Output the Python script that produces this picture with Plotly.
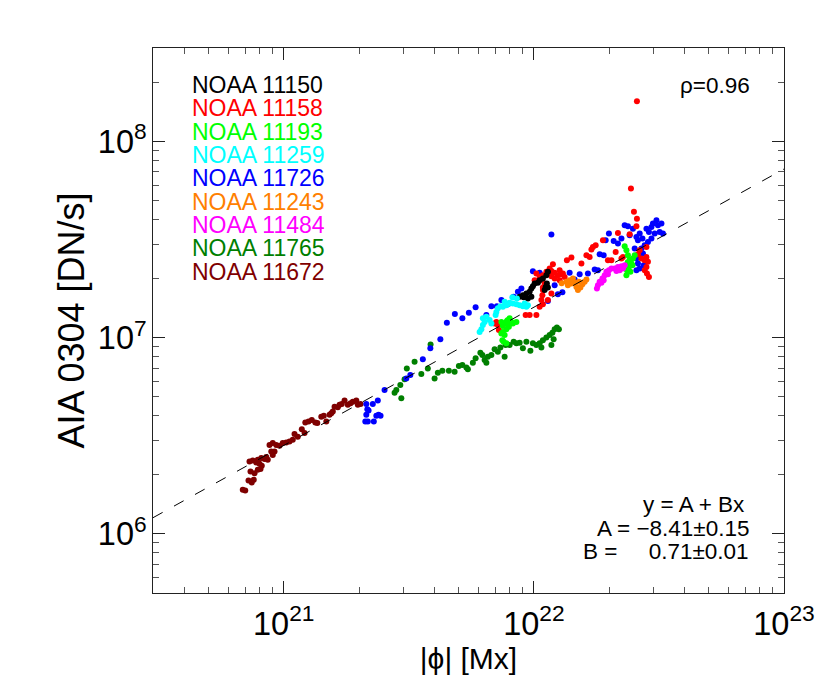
import numpy as np
import plotly.graph_objects as go

# values, stored as log10(|phi| / Mx) and log10(AIA 304 / DN s^-1)
lphi_11150 = [21.943, 21.956, 21.970, 21.983, 21.990, 21.996, 22.003, 22.016, 22.023, 22.036,
              22.050, 22.056, 22.052, 22.047, 22.043, 22.056, 21.976, 21.990, 21.959]
laia_11150 = [7.209, 7.217, 7.226, 7.234, 7.251, 7.263, 7.277, 7.280, 7.293, 7.302,
              7.319, 7.336, 7.277, 7.259, 7.243, 7.256, 7.200, 7.209, 7.207]

lphi_11158 = [22.412, 22.388, 22.400, 22.412, 22.410, 22.336, 22.383, 22.247, 22.236, 22.230,
              22.210, 22.223, 22.190, 22.296, 22.310, 22.327, 22.350, 22.356, 22.276, 22.132,
              22.150, 22.076, 22.063, 22.103, 22.116, 22.430, 22.443, 22.450, 22.456, 22.450,
              22.443, 22.452, 22.460, 22.450, 22.423, 22.416, 22.010, 22.023, 22.003, 22.016,
              22.030, 22.036, 22.050, 22.060, 22.070, 22.083, 22.096, 22.110, 22.123, 22.103,
              22.083, 22.070, 22.043, 22.036, 22.034, 22.030, 22.023, 22.010, 21.983, 21.967,
              22.056, 22.036, 22.036, 22.070, 21.850, 21.856, 21.843, 21.860]
laia_11158 = [8.206, 7.761, 7.643, 7.607, 7.568, 7.534, 7.528, 7.472, 7.463, 7.450,
              7.421, 7.412, 7.378, 7.395, 7.395, 7.437, 7.404, 7.412, 7.497, 7.395,
              7.409, 7.375, 7.353, 7.344, 7.328, 7.404, 7.395, 7.412, 7.387, 7.361,
              7.344, 7.328, 7.310, 7.463, 7.446, 7.426, 7.328, 7.310, 7.293, 7.285,
              7.297, 7.319, 7.336, 7.328, 7.341, 7.331, 7.319, 7.324, 7.310, 7.293,
              7.302, 7.314, 7.277, 7.243, 7.217, 7.192, 7.158, 7.116, 7.116, 7.116,
              7.192, 7.256, 7.171, 7.226, 7.081, 7.065, 7.073, 7.039]

lphi_11193 = [21.870, 21.876, 21.883, 21.892, 21.903, 21.910, 21.916, 21.900, 21.890, 21.876,
              21.870, 21.883, 21.874, 21.879, 21.890, 21.896, 21.930, 21.896,
              22.363, 22.370, 22.376, 22.383, 22.390, 22.380, 22.372, 22.370, 22.396, 22.403,
              22.394, 22.386, 22.375]
laia_11193 = [7.081, 7.060, 7.073, 7.086, 7.099, 7.081, 7.073, 7.056, 7.043, 7.030,
              7.022, 7.014, 6.988, 6.980, 6.972, 7.090, 7.081, 7.070,
              7.466, 7.446, 7.421, 7.399, 7.378, 7.361, 7.344, 7.319, 7.404, 7.421,
              7.370, 7.336, 7.385]

lphi_11259 = [21.783, 21.790, 21.796, 21.803, 21.796, 21.810, 21.823, 21.830, 21.847, 21.850,
              21.856, 21.866, 21.876, 21.890, 21.903, 21.916, 21.930, 21.943, 21.956, 21.970,
              21.976, 21.963, 21.914, 21.932, 21.896, 21.883]
laia_11259 = [7.030, 7.043, 7.065, 7.081, 7.099, 7.107, 7.090, 7.073, 7.116, 7.132,
              7.150, 7.161, 7.158, 7.166, 7.178, 7.175, 7.171, 7.166, 7.161, 7.158,
              7.166, 7.175, 7.206, 7.200, 7.171, 7.183]

lphi_11726 = [21.330, 21.334, 21.339, 21.330, 21.356, 21.376, 21.379, 21.387, 21.370, 21.326,
              21.336, 21.360, 21.403, 21.490, 21.506, 21.556, 21.586, 21.626, 21.652, 21.684,
              21.714, 21.740, 21.767, 21.810, 21.830, 21.852, 21.870, 21.896, 21.919, 21.936,
              21.950, 21.996, 22.023, 22.056, 22.070, 22.083, 22.096, 22.114, 22.143, 22.163,
              22.183, 22.216, 22.243, 22.256, 22.263, 22.279, 22.287, 22.300, 22.319, 22.336,
              22.350, 22.363, 22.376, 22.383, 22.396, 22.410, 22.416, 22.423, 22.434, 22.443,
              22.450, 22.460, 22.470, 22.476, 22.490, 22.496, 22.510, 22.516, 22.503, 22.483,
              22.470, 22.456, 22.430, 22.423, 22.410, 22.416, 22.423, 22.410, 22.403, 22.436,
              22.439]
laia_11726 = [6.663, 6.636, 6.629, 6.607, 6.663, 6.680, 6.607, 6.602, 6.602, 6.573,
              6.573, 6.573, 6.734, 6.793, 6.810, 6.890, 6.946, 6.992, 7.076, 7.121,
              7.099, 7.127, 7.155, 7.116, 7.161, 7.161, 7.192, 7.171, 7.209, 7.234,
              7.251, 7.339, 7.331, 7.188, 7.526, 7.268, 7.222, 7.232, 7.331, 7.297,
              7.324, 7.328, 7.348, 7.344, 7.426, 7.421, 7.497, 7.531, 7.493, 7.480,
              7.506, 7.573, 7.568, 7.522, 7.556, 7.514, 7.497, 7.531, 7.506, 7.472,
              7.556, 7.539, 7.565, 7.582, 7.599, 7.573, 7.582, 7.531, 7.539, 7.531,
              7.506, 7.488, 7.455, 7.429, 7.404, 7.378, 7.353, 7.344, 7.455, 7.429,
              7.370]

lphi_11243 = [22.130, 22.143, 22.150, 22.163, 22.170, 22.176, 22.186, 22.194, 22.203, 22.210,
              22.156, 22.136, 22.180, 22.111]
laia_11243 = [7.285, 7.293, 7.277, 7.280, 7.259, 7.243, 7.256, 7.273, 7.285, 7.297,
              7.302, 7.268, 7.285, 7.278]

lphi_11484 = [22.252, 22.256, 22.263, 22.274, 22.283, 22.290, 22.300, 22.310, 22.323, 22.336,
              22.350, 22.356, 22.363, 22.330, 22.296, 22.270, 22.343, 22.279]
laia_11484 = [7.251, 7.268, 7.285, 7.302, 7.319, 7.336, 7.344, 7.353, 7.353, 7.361,
              7.365, 7.353, 7.370, 7.341, 7.324, 7.280, 7.344, 7.293]

lphi_11765 = [21.443, 21.450, 21.470, 21.466, 21.483, 21.492, 21.523, 21.550, 21.576, 21.587,
              21.603, 21.616, 21.634, 21.660, 21.683, 21.700, 21.714, 21.730, 21.736, 21.756,
              21.767, 21.786, 21.794, 21.803, 21.810, 21.816, 21.830, 21.843, 21.856, 21.866,
              21.883, 21.887, 21.903, 21.919, 21.930, 21.943, 21.956, 21.970, 21.986, 21.996,
              22.010, 22.023, 22.030, 22.036, 22.050, 22.063, 22.074, 22.083, 22.092, 22.100,
              22.070, 22.079]
laia_11765 = [6.720, 6.734, 6.692, 6.759, 6.788, 6.844, 6.878, 6.815, 6.844, 6.966,
              6.793, 6.822, 6.832, 6.832, 6.827, 6.856, 6.861, 6.849, 6.839, 6.873,
              6.895, 6.924, 6.912, 6.887, 6.873, 6.903, 6.912, 6.941, 6.929, 6.951,
              6.903, 6.963, 6.963, 6.980, 6.972, 6.975, 6.946, 6.980, 6.934, 6.972,
              6.963, 6.972, 6.951, 6.988, 7.002, 7.014, 7.025, 7.043, 7.053, 7.043,
              6.963, 6.992]

lphi_11672 = [20.836, 20.846, 20.859, 20.872, 20.880, 20.867, 20.883, 20.896, 20.907, 20.912,
              20.903, 20.863, 20.876, 20.890, 20.896, 20.910, 20.923, 20.936, 20.930, 20.956,
              20.963, 20.950, 20.943, 20.956, 20.970, 20.983, 20.996, 21.010, 21.023, 21.036,
              21.043, 21.056, 21.072, 21.083, 21.086, 21.099, 21.112, 21.126, 21.134, 21.150,
              21.160, 21.170, 21.183, 21.190, 21.196, 21.203, 21.216, 21.223, 21.232, 21.243,
              21.256, 21.267, 21.276, 21.290, 21.296, 21.307]
laia_11672 = [6.225, 6.222, 6.273, 6.262, 6.276, 6.318, 6.310, 6.327, 6.331, 6.347,
              6.358, 6.369, 6.374, 6.364, 6.378, 6.387, 6.382, 6.378, 6.392, 6.403,
              6.420, 6.420, 6.454, 6.463, 6.454, 6.449, 6.463, 6.466, 6.471, 6.480,
              6.510, 6.496, 6.534, 6.514, 6.568, 6.573, 6.581, 6.568, 6.565, 6.598,
              6.602, 6.573, 6.607, 6.615, 6.624, 6.649, 6.646, 6.658, 6.663, 6.680,
              6.658, 6.666, 6.674, 6.680, 6.658, 6.663]

# dashed fit line, end points
fit_phi = [3.0e20, 1.0e23]
fit_aia = [1.21e6, 7.25e7]

# drawing order and colours
regions = ["11765", "11672", "11726", "11158", "11150", "11259", "11193", "11243", "11484"]
colors = {
    "11150": "#000000", "11158": "#ff0000", "11193": "#00ff00", "11259": "#00ffff",
    "11726": "#0000ff", "11243": "#ff8000", "11484": "#ff00ff", "11765": "#007f00",
    "11672": "#7f0000",
}
label_order = ["11150", "11158", "11193", "11259", "11726", "11243", "11484", "11765", "11672"]
data = {
    "11150": (lphi_11150, laia_11150), "11158": (lphi_11158, laia_11158),
    "11193": (lphi_11193, laia_11193), "11259": (lphi_11259, laia_11259),
    "11726": (lphi_11726, laia_11726), "11243": (lphi_11243, laia_11243),
    "11484": (lphi_11484, laia_11484), "11765": (lphi_11765, laia_11765),
    "11672": (lphi_11672, laia_11672),
}

FONT = "Liberation Sans, Arial, Helvetica, sans-serif"

fig = go.Figure()
for r in regions:
    lx, ly = data[r]
    fig.add_trace(go.Scatter(
        x=10 ** np.array(lx), y=10 ** np.array(ly), mode="markers",
        marker=dict(color=colors[r], size=6, line=dict(width=0)),
        name="NOAA " + r, showlegend=False,
    ))

fig.add_trace(go.Scatter(
    x=fit_phi, y=fit_aia, mode="lines",
    line=dict(color="black", width=1, dash="11px,13px"),
    showlegend=False,
))

# region labels, top left
for i, r in enumerate(label_order):
    fig.add_annotation(
        xref="paper", yref="paper", x=0.059, y=0.932 - i * 0.0428,
        xanchor="left", yanchor="middle", showarrow=False,
        text="NOAA " + r, font=dict(family=FONT, size=23, color=colors[r]),
    )

fig.add_annotation(
    xref="paper", yref="paper", x=0.950, y=0.932, xanchor="right", yanchor="middle",
    showarrow=False, text="\u03c1=0.96", font=dict(family=FONT, size=22.5, color="black"),
)

eq_lines = ["y = A + Bx", "A = \u22128.41\u00b10.15",
            "B =\u00a0\u00a0\u00a0\u00a0\u00a00.71\u00b10.01"]
for i, t in enumerate(eq_lines):
    fig.add_annotation(
        xref="paper", yref="paper", x=0.948 - (0.006 if i == 0 else 0), y=0.162 - i * 0.0428,
        xanchor="right", yanchor="middle", showarrow=False,
        text=t, font=dict(family=FONT, size=22.5, color="black"),
    )

axis_common = dict(
    type="log", showgrid=False, zeroline=False,
    showline=True, linecolor="#222222", linewidth=1.3, mirror="ticks",
    ticks="inside", ticklen=12, tickwidth=1, tickcolor="#222222",
    dtick=1, exponentformat="power",
    tickfont=dict(family=FONT, size=26, color="black"),
    minor=dict(ticks="inside", ticklen=6, tickwidth=1, tickcolor="#555555",
               dtick="D1", showgrid=False),
)

fig.update_xaxes(
    range=[np.log10(3e20), 23],
    title=dict(text="|\u03d5| [Mx]", font=dict(family=FONT, size=30, color="black"), standoff=2),
    ticklabelstandoff=3,
    **axis_common,
)
fig.update_yaxes(
    range=[np.log10(5e5), np.log10(3e8)],
    title=dict(text="AIA 0304 [DN/s]", font=dict(family=FONT, size=36, color="black"), standoff=2),
    ticklabelstandoff=0,
    **axis_common,
)

# page body has an 8 px margin, so the figure is 8 px smaller than the window
fig.update_layout(
    width=822, height=683,
    margin=dict(l=145, r=46, t=40, b=98, autoexpand=False),
    paper_bgcolor="white", plot_bgcolor="white",
    font=dict(family=FONT, color="black"),
)

fig.write_html("out.html")
